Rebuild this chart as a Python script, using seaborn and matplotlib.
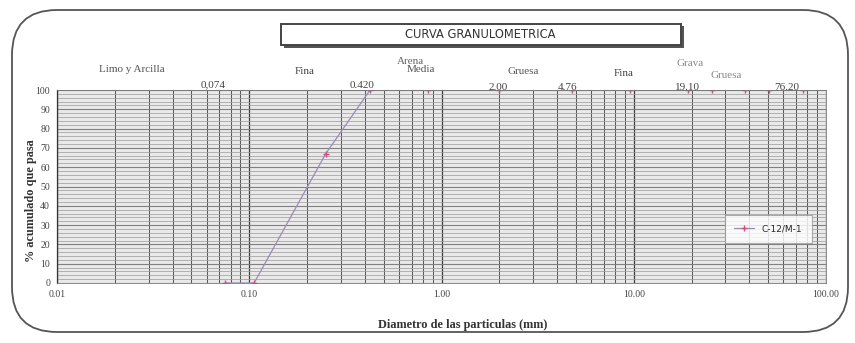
import matplotlib
matplotlib.use("Agg")
import matplotlib.pyplot as plt
from matplotlib.patches import FancyBboxPatch, Rectangle
from matplotlib.ticker import FixedLocator, NullFormatter, MultipleLocator
import seaborn as sns
import pandas as pd

# Sieve analysis: opening (mm) and cumulative percent passing
sieve_mm = [76.2, 50.8, 38.1, 25.4, 19.05, 9.525, 4.76, 2.00, 0.85, 0.425, 0.25, 0.106, 0.075]
passing_pct = [100, 100, 100, 100, 100, 100, 100, 100, 100, 100, 67, 0, 0]
sample_name = "C-12/M-1"

x_ticks = [0.01, 0.1, 1, 10, 100]
x_tick_labels = ["0.01", "0.10", "1.00", "10.00", "100.00"]
y_ticks = list(range(0, 101, 10))

# Soil classification labels above the plot: (text, x px, y px, colour)
zone_labels = [
    ("Limo y Arcilla", 132, 70, "#555555"),
    ("0,074", 213, 85, "#444444"),
    ("Fina", 305, 72, "#444444"),
    ("0.420", 362, 86, "#444444"),
    ("Arena", 410, 62, "#666666"),
    ("Media", 421, 70, "#555555"),
    ("Gruesa", 523, 72, "#555555"),
    ("2.00", 498, 88, "#444444"),
    ("4.76", 568, 88, "#444444"),
    ("Fina", 624, 74, "#444444"),
    ("Grava", 690, 63, "#888888"),
    ("Gruesa", 726, 76, "#888888"),
    ("19.10", 687, 88, "#444444"),
    ("76.20", 787, 88, "#444444"),
]

df = pd.DataFrame({"d": sieve_mm, "p": passing_pct, "muestra": sample_name})

sns.set_theme(style="white")
plt.rcParams["font.family"] = ["Liberation Serif", "DejaVu Serif"]

W, H = 855, 343
fig = plt.figure(figsize=(W / 100, H / 100), dpi=100)
fig.patch.set_facecolor("white")

L, R, T, B = 57, 826, 90, 283
ax = fig.add_axes([L / W, 1 - B / H, (R - L) / W, (B - T) / H])
ax.set_facecolor("#e9e9e9")

sns.lineplot(data=df, x="d", y="p", hue="muestra", palette=["#9c8ab8"],
             marker="+", markersize=5, markeredgewidth=1.0,
             markeredgecolor="#cc4f7c", linewidth=0.9, sort=True, ax=ax)

ax.set_xscale("log")
ax.set_xlim(0.01, 100)
ax.set_ylim(0, 100)

# Semi-log grid paper
minor_x = [m * 10.0 ** e for e in range(-2, 2) for m in range(2, 10)]
ax.xaxis.set_major_locator(FixedLocator(x_ticks))
ax.xaxis.set_minor_locator(FixedLocator(minor_x))
ax.xaxis.set_minor_formatter(NullFormatter())
ax.set_xticklabels(x_tick_labels)
ax.yaxis.set_major_locator(FixedLocator(y_ticks))
ax.yaxis.set_minor_locator(MultipleLocator(2))
ax.grid(which="major", axis="x", color="#3c3c3c", linewidth=0.9)
ax.grid(which="minor", axis="x", color="#5a5a5a", linewidth=0.75)
ax.grid(which="major", axis="y", color="#808080", linewidth=0.8)
ax.grid(which="minor", axis="y", color="#a0a0a0", linewidth=0.55)
ax.set_axisbelow(True)

ax.tick_params(axis="both", which="both", length=0, labelsize=7, colors="#444444", pad=5)
for s in ax.spines.values():
    s.set_color("#777777")
    s.set_linewidth(0.6)
ax.spines["left"].set_color("#333333")
ax.spines["left"].set_linewidth(0.9)

ax.set_xlabel("")
ax.set_ylabel("")
fig.text(463 / W, 1 - 325 / H, "Diametro de las particulas (mm)", ha="center",
         va="center", fontsize=8.8, fontweight="bold", color="#333333")
fig.text(31 / W, 1 - 201 / H, "% acumulado que pasa", ha="center", va="center",
         rotation=90, fontsize=8.8, fontweight="bold", color="#333333")

leg = ax.legend(loc="center", bbox_to_anchor=(0.925, 0.28), frameon=True,
                fancybox=False, handlelength=2.2, borderpad=1.1,
                prop={"family": ["DejaVu Sans"], "size": 6.5})
leg.get_frame().set_edgecolor("#999999")
leg.get_frame().set_linewidth(0.8)
leg.get_frame().set_facecolor("white")

# Zone and sieve labels above the grid
for txt, px, py, col in zone_labels:
    fig.text(px / W, 1 - py / H, txt, ha="center", va="center",
             fontsize=8, color=col)

# Title box with a drop shadow
shadow = Rectangle((284 / W, 1 - 48 / H), 400 / W, 22 / H, transform=fig.transFigure,
                   facecolor="#555555", edgecolor="none")
box = Rectangle((281 / W, 1 - 45 / H), 400 / W, 21 / H, transform=fig.transFigure,
                facecolor="white", edgecolor="#444444", linewidth=1.4)
fig.add_artist(shadow)
fig.add_artist(box)
fig.text(480 / W, 1 - 34 / H, "CURVA GRANULOMETRICA", ha="center", va="center",
         fontsize=8.3, color="#333333", family=["DejaVu Sans"])

# Rounded page border
border = FancyBboxPatch((12, H - 332), 836, 322, transform=None,
                        boxstyle="round,pad=0,rounding_size=45",
                        facecolor="none", edgecolor="#555555", linewidth=1.3)
fig.add_artist(border)

fig.savefig("out.png", dpi=100, facecolor="white")
